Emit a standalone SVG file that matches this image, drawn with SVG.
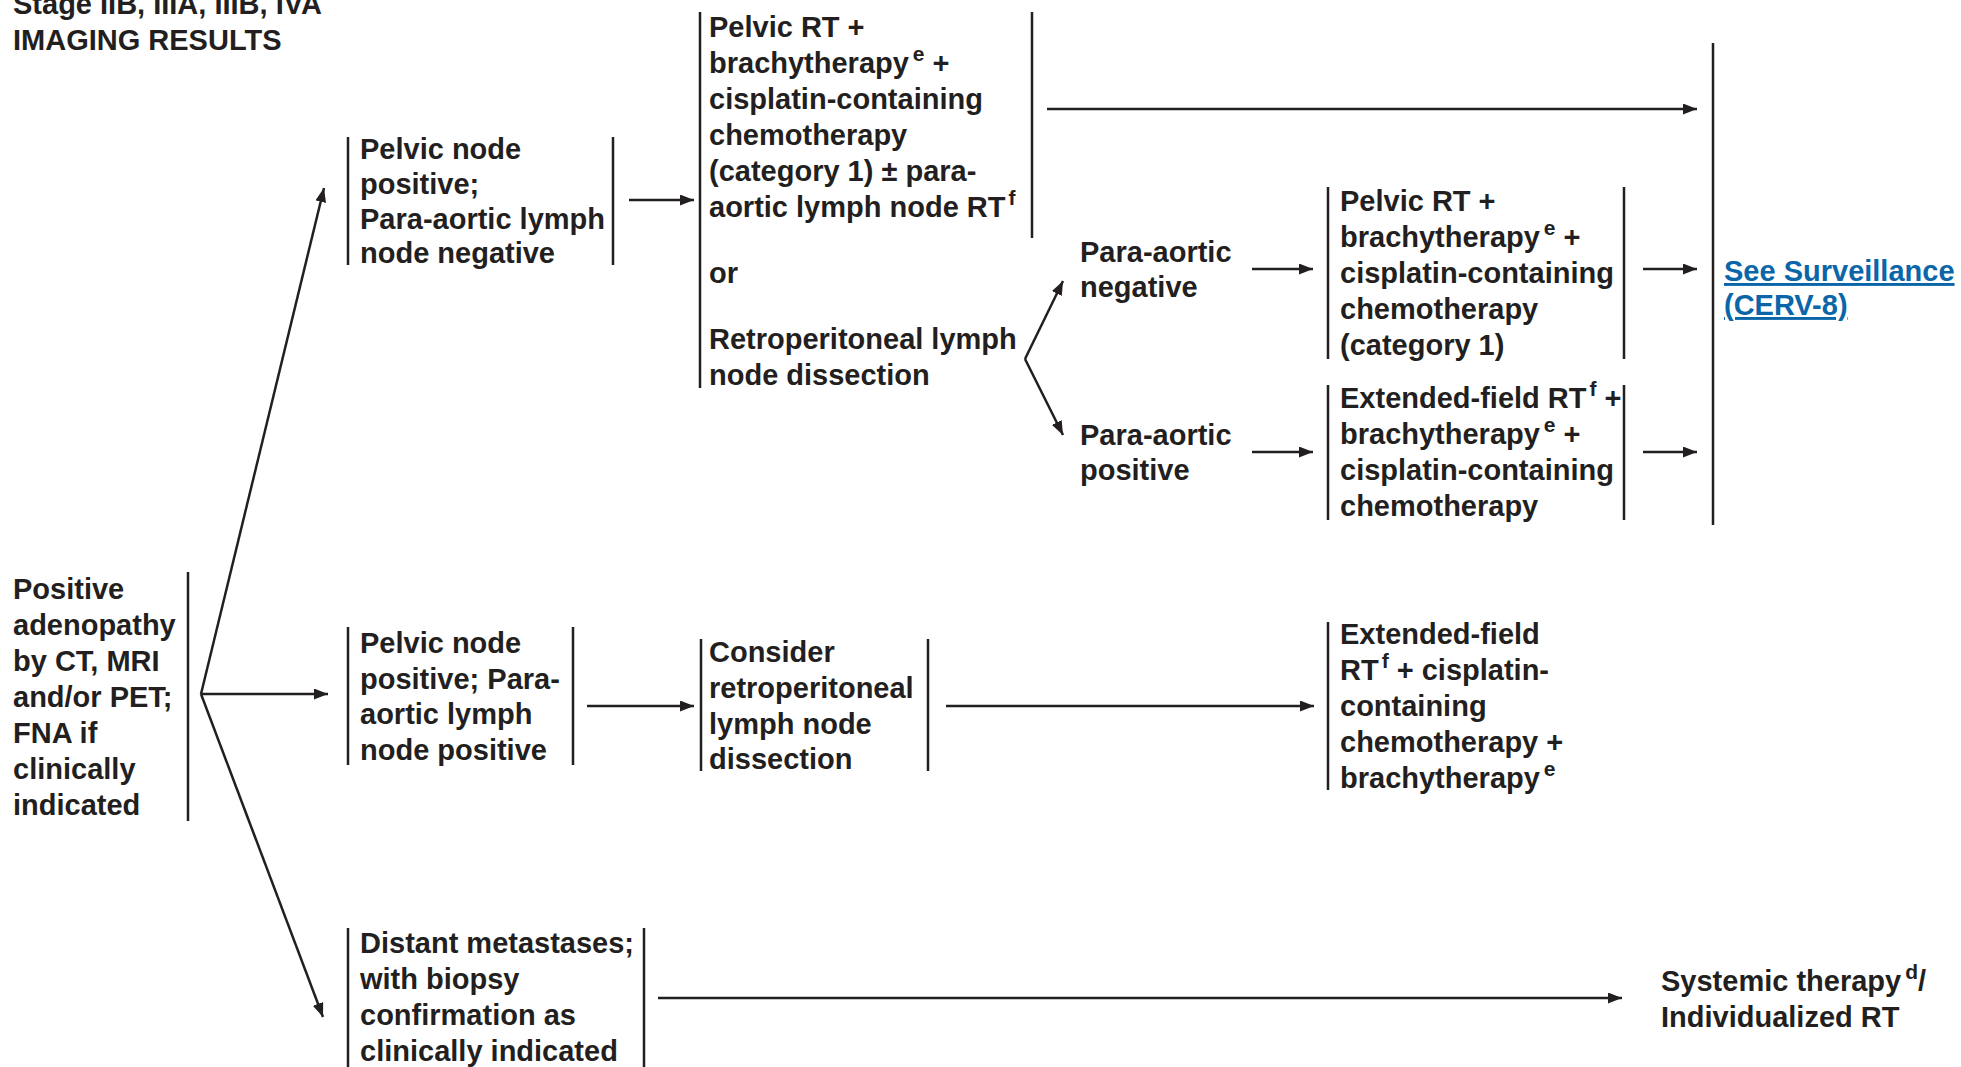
<svg xmlns="http://www.w3.org/2000/svg" width="1961" height="1067" viewBox="0 0 1961 1067">
<defs>
<marker id="ah" markerUnits="userSpaceOnUse" markerWidth="15" markerHeight="11" refX="14" refY="5.5" orient="auto">
<path d="M0,0 L14,5.5 L0,11 z" fill="#231f20"/>
</marker>
<style>
text{font-family:"Liberation Sans",Arial,Helvetica,sans-serif;font-weight:bold;font-size:29px;fill:#231f20}
.sup{font-size:21px}
.bar{stroke:#231f20;stroke-width:2.5;fill:none}
.c{stroke:#231f20;stroke-width:2.5;fill:none;marker-end:url(#ah)}
.link{fill:#0a66a8;text-decoration:underline}
</style>
</defs>
<rect width="1961" height="1067" fill="#ffffff"/>

<g id="title">
<text x="13" y="14">Stage IIB, IIIA, IIIB, IVA</text>
<text x="13" y="50">IMAGING RESULTS</text>
</g>

<g id="node-imaging">
<line class="bar" x1="188" y1="572" x2="188" y2="821"/>
<text x="13" y="599">Positive</text>
<text x="13" y="635">adenopathy</text>
<text x="13" y="671">by CT, MRI</text>
<text x="13" y="707">and/or PET;</text>
<text x="13" y="743">FNA if</text>
<text x="13" y="779">clinically</text>
<text x="13" y="815">indicated</text>
</g>

<g id="node-pa-negative">
<line class="bar" x1="348" y1="137" x2="348" y2="265"/>
<line class="bar" x1="613" y1="137" x2="613" y2="265"/>
<text x="360" y="159">Pelvic node</text>
<text x="360" y="194">positive;</text>
<text x="360" y="229">Para-aortic lymph</text>
<text x="360" y="263">node negative</text>
</g>

<g id="node-pelvic-rt">
<line class="bar" x1="700" y1="12" x2="700" y2="388"/>
<line class="bar" x1="1032" y1="12" x2="1032" y2="238"/>
<text x="709" y="37">Pelvic RT +</text>
<text x="709" y="73">brachytherapy<tspan class="sup" dx="4" dy="-12">e</tspan><tspan dy="12"> +</tspan></text>
<text x="709" y="109">cisplatin-containing</text>
<text x="709" y="145">chemotherapy</text>
<text x="709" y="181">(category 1) ± para-</text>
<text x="709" y="217">aortic lymph node RT<tspan class="sup" dx="3" dy="-12">f</tspan></text>
<text x="709" y="283">or</text>
<text x="709" y="349">Retroperitoneal lymph</text>
<text x="709" y="385">node dissection</text>
</g>

<g id="node-pa-neg-result">
<text x="1080" y="262">Para-aortic</text>
<text x="1080" y="297">negative</text>
</g>

<g id="node-pa-pos-result">
<text x="1080" y="445">Para-aortic</text>
<text x="1080" y="480">positive</text>
</g>

<g id="node-pelvic-rt-2">
<line class="bar" x1="1328" y1="187" x2="1328" y2="359"/>
<line class="bar" x1="1624" y1="187" x2="1624" y2="359"/>
<text x="1340" y="211">Pelvic RT +</text>
<text x="1340" y="247">brachytherapy<tspan class="sup" dx="4" dy="-12">e</tspan><tspan dy="12"> +</tspan></text>
<text x="1340" y="283">cisplatin-containing</text>
<text x="1340" y="319">chemotherapy</text>
<text x="1340" y="355">(category 1)</text>
</g>

<g id="node-extended-1">
<line class="bar" x1="1328" y1="385" x2="1328" y2="520"/>
<line class="bar" x1="1624" y1="385" x2="1624" y2="520"/>
<text x="1340" y="408">Extended-field RT<tspan class="sup" dx="3" dy="-12">f</tspan><tspan dy="12"> +</tspan></text>
<text x="1340" y="444">brachytherapy<tspan class="sup" dx="4" dy="-12">e</tspan><tspan dy="12"> +</tspan></text>
<text x="1340" y="480">cisplatin-containing</text>
<text x="1340" y="516">chemotherapy</text>
</g>

<g id="node-surveillance">
<line class="bar" x1="1713" y1="43" x2="1713" y2="525"/>
<text class="link" x="1724" y="281">See Surveillance</text>
<text class="link" x="1724" y="315">(CERV-8)</text>
</g>

<g id="node-pa-positive">
<line class="bar" x1="348" y1="627" x2="348" y2="765"/>
<line class="bar" x1="573" y1="627" x2="573" y2="765"/>
<text x="360" y="653">Pelvic node</text>
<text x="360" y="689">positive; Para-</text>
<text x="360" y="724">aortic lymph</text>
<text x="360" y="760">node positive</text>
</g>

<g id="node-consider">
<line class="bar" x1="701" y1="639" x2="701" y2="771"/>
<line class="bar" x1="928" y1="639" x2="928" y2="771"/>
<text x="709" y="662">Consider</text>
<text x="709" y="698">retroperitoneal</text>
<text x="709" y="734">lymph node</text>
<text x="709" y="769">dissection</text>
</g>

<g id="node-extended-2">
<line class="bar" x1="1328" y1="622" x2="1328" y2="790"/>
<text x="1340" y="644">Extended-field</text>
<text x="1340" y="680">RT<tspan class="sup" dx="3" dy="-12">f</tspan><tspan dy="12"> + cisplatin-</tspan></text>
<text x="1340" y="716">containing</text>
<text x="1340" y="752">chemotherapy +</text>
<text x="1340" y="788">brachytherapy<tspan class="sup" dx="4" dy="-12">e</tspan></text>
</g>

<g id="node-distant">
<line class="bar" x1="348" y1="928" x2="348" y2="1067"/>
<line class="bar" x1="644" y1="928" x2="644" y2="1067"/>
<text x="360" y="953">Distant metastases;</text>
<text x="360" y="989">with biopsy</text>
<text x="360" y="1025">confirmation as</text>
<text x="360" y="1061">clinically indicated</text>
</g>

<g id="node-systemic">
<text x="1661" y="991">Systemic therapy<tspan class="sup" dx="4" dy="-12">d</tspan><tspan dy="12">/</tspan></text>
<text x="1661" y="1027">Individualized RT</text>
</g>

<g id="connectors">
<line class="c" x1="201" y1="694" x2="324" y2="188"/>
<line class="c" x1="201" y1="694" x2="328" y2="694"/>
<line class="c" x1="201" y1="694" x2="323" y2="1017"/>
<line class="c" x1="629" y1="200" x2="694" y2="200"/>
<line class="c" x1="1047" y1="109" x2="1697" y2="109"/>
<line class="c" x1="1025" y1="359" x2="1063" y2="281"/>
<line class="c" x1="1025" y1="359" x2="1063" y2="435"/>
<line class="c" x1="1252" y1="269" x2="1313" y2="269"/>
<line class="c" x1="1252" y1="452" x2="1313" y2="452"/>
<line class="c" x1="1643" y1="269" x2="1697" y2="269"/>
<line class="c" x1="1643" y1="452" x2="1697" y2="452"/>
<line class="c" x1="587" y1="706" x2="694" y2="706"/>
<line class="c" x1="946" y1="706" x2="1314" y2="706"/>
<line class="c" x1="658" y1="998" x2="1622" y2="998"/>
</g>
</svg>
